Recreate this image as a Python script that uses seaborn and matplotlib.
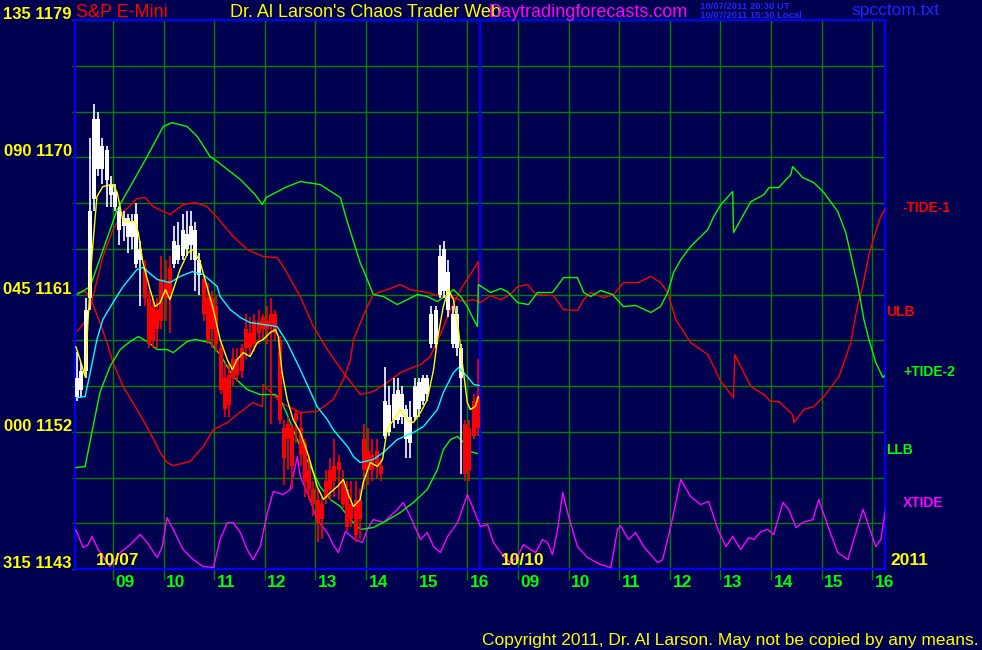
# S&P E-Mini chaos trader chart, two sessions 10/07 and 10/10

import numpy as np
import matplotlib
matplotlib.use("Agg")
import matplotlib.pyplot as plt
import matplotlib.transforms as mtransforms
from matplotlib import font_manager
import seaborn as sns

# ------------------------------
# DATA
# x = 5-minute bars counted from 08:15 on 10/07, 10/10 starts at bar 96
# ------------------------------

bar_open = [1154.25, 1154.75, 1156.0, 1160.75, 1167.25, 1172.5, 1169.25, 1170.5, 1168.25, 1167.75,
            1166.5, 1165.5, 1166.0, 1164.75, 1166.25, 1163.25, 1162.75, 1160.75, 1158.0, 1160.0,
            1159.25, 1161.75, 1160.75, 1163.0, 1164.25, 1163.5, 1165.0, 1164.25, 1165.25, 1163.25,
            1162.0, 1160.75, 1158.75, 1160.25, 1157.5, 1155.5, 1153.75, 1155.5, 1156.75, 1156.0,
            1157.5, 1158.5, 1157.75, 1159.25, 1158.75, 1159.25, 1159.0, 1159.75, 1158.0, 1152.25,
            1151.5, 1152.25, 1152.75, 1152.25, 1151.25, 1149.5, 1148.25, 1147.5, 1147.25, 1148.75,
            1149.5, 1149.75, 1149.5, 1148.75, 1148.25, 1147.25, 1147.5, 1146.25, 1149.5, 1149.5,
            1150.5, 1149.75, 1149.75, 1151.75, 1152.0, 1152.75, 1152.75, 1153.0, 1151.5, 1151.25,
            1153.0, 1153.5, 1154.0, 1154.5, 1157.75, 1157.75, 1161.0, 1161.25, 1160.0, 1157.75,
            1157.5, 1155.5, 1152.5, 1152.25, 1154.0, 1154.25]
bar_high = [1157.25, 1156.5, 1160.75, 1171.25, 1173.5, 1173.0, 1171.25, 1170.75, 1168.75, 1168.25,
            1166.75, 1166.5, 1166.25, 1166.25, 1167.0, 1164.5, 1163.25, 1161.25, 1161.0, 1160.75,
            1163.5, 1163.25, 1163.5, 1165.5, 1165.75, 1166.25, 1166.5, 1166.5, 1165.75, 1163.75,
            1162.25, 1161.75, 1161.25, 1161.0, 1158.0, 1156.5, 1156.5, 1157.5, 1157.5, 1157.75,
            1159.75, 1159.5, 1159.75, 1160.0, 1159.75, 1160.25, 1160.75, 1160.0, 1158.25, 1152.75,
            1153.0, 1152.5, 1153.5, 1153.25, 1151.5, 1150.5, 1148.75, 1148.25, 1147.75, 1149.5,
            1150.25, 1151.5, 1150.5, 1149.5, 1148.75, 1148.75, 1148.75, 1148.25, 1152.5, 1152.25,
            1151.5, 1151.5, 1150.25, 1156.25, 1155.0, 1155.5, 1155.5, 1155.0, 1153.75, 1154.0,
            1155.5, 1155.5, 1155.75, 1155.75, 1160.25, 1160.25, 1164.25, 1164.5, 1163.25, 1160.25,
            1160.25, 1157.75, 1152.75, 1152.75, 1154.5, 1156.75]
bar_low = [1154.0, 1154.25, 1155.5, 1160.0, 1166.5, 1168.75, 1168.25, 1166.75, 1166.75, 1166.5,
           1164.25, 1164.5, 1163.75, 1164.0, 1162.75, 1160.25, 1160.25, 1157.5, 1157.5, 1157.5,
           1158.75, 1159.25, 1158.5, 1162.75, 1163.0, 1163.25, 1163.5, 1163.25, 1161.25, 1161.0,
           1159.25, 1157.75, 1157.5, 1157.25, 1154.5, 1153.0, 1153.0, 1155.0, 1155.25, 1155.5,
           1156.75, 1157.0, 1157.25, 1157.75, 1158.0, 1157.75, 1152.5, 1158.0, 1152.5, 1148.5,
           1149.5, 1148.25, 1151.25, 1149.75, 1147.75, 1147.5, 1146.5, 1144.75, 1145.0, 1147.25,
           1147.5, 1147.75, 1147.5, 1147.0, 1145.5, 1145.75, 1144.75, 1145.0, 1148.25, 1148.5,
           1148.75, 1149.0, 1148.75, 1151.5, 1151.75, 1152.25, 1152.5, 1152.5, 1150.25, 1150.25,
           1152.75, 1153.0, 1153.75, 1154.0, 1157.5, 1157.5, 1160.75, 1160.75, 1159.5, 1157.5,
           1157.0, 1149.25, 1148.75, 1148.75, 1151.5, 1151.75]
bar_close = [1155.5, 1156.0, 1160.0, 1166.5, 1172.5, 1169.25, 1170.75, 1168.5, 1167.5, 1166.75,
             1165.25, 1166.0, 1164.75, 1165.75, 1163.0, 1164.0, 1160.75, 1157.75, 1160.25, 1158.75,
             1162.0, 1160.75, 1162.75, 1164.5, 1163.25, 1165.25, 1164.0, 1165.5, 1163.25, 1162.25,
             1159.75, 1158.0, 1160.75, 1157.75, 1154.75, 1153.5, 1155.75, 1156.75, 1155.75, 1157.5,
             1158.75, 1157.5, 1159.25, 1158.5, 1159.5, 1158.75, 1159.75, 1158.5, 1152.75, 1150.25,
             1152.5, 1149.75, 1153.25, 1150.5, 1148.75, 1148.25, 1147.25, 1146.0, 1146.25, 1147.75,
             1148.25, 1148.75, 1150.0, 1147.25, 1145.75, 1146.25, 1145.25, 1147.5, 1151.5, 1150.75,
             1149.5, 1150.75, 1149.25, 1154.0, 1153.75, 1154.5, 1154.75, 1154.5, 1153.5, 1153.0,
             1155.0, 1155.25, 1155.5, 1155.5, 1159.75, 1160.0, 1163.5, 1164.0, 1162.5, 1159.75,
             1159.75, 1157.5, 1149.25, 1149.5, 1151.75, 1152.25]
# W = white bar, R = red bar
bar_colour = "WWWWWWWWWWWWWWWWRRRRRRRWWWWWWWRRRRRRRRRRRRRRRRRRRRRRRRRRRRRRRRRRRRRRRRRRRWWWWWWWWWWWWWWWWWWWRRRR"

fast_bar = [0.2, 1.2, 2.4, 3.1, 4.0, 4.8, 5.2, 6.6, 9.0, 10.0, 11.4, 14.2, 15.0, 16.1, 17.8, 19.0,
            20.2, 21.4, 22.5, 24.9, 26.8, 28.0, 29.7, 31.3, 32.8, 34.4, 36.1, 37.3, 38.4, 39.9, 41.5,
            43.2, 44.6, 46.3, 47.5, 48.2, 49.1, 50.3, 51.7, 53.4, 55.1, 56.5, 57.4, 58.9, 60.5, 62.2,
            63.6, 64.8, 66.0, 67.6, 68.3, 70.0, 71.7, 72.9, 74.0, 75.5, 77.1, 78.8, 80.2, 81.9, 83.5,
            85.0, 85.9, 87.3, 88.5, 89.7, 90.9, 91.8, 93.0, 93.7, 94.9, 95.6]
fast_price = [1157.59, 1156.73, 1155.62, 1159.36, 1163.49, 1166.11, 1167.42, 1168.08, 1168.21, 1167.69,
              1165.78, 1165.78, 1165.06, 1163.09, 1161.32, 1160.21, 1160.47, 1161.32, 1160.67, 1162.64,
              1163.75, 1163.95, 1163.09, 1161.52, 1160.01, 1158.05, 1156.73, 1156.08, 1156.73, 1157.19,
              1156.93, 1157.85, 1158.05, 1158.51, 1158.70, 1158.24, 1155.88, 1154.11, 1152.80, 1151.95,
              1150.64, 1149.33, 1148.41, 1147.56, 1148.01, 1148.41, 1148.87, 1147.88, 1147.10, 1147.56,
              1148.67, 1149.98, 1149.72, 1150.18, 1152.14, 1152.80, 1153.46, 1152.80, 1152.60, 1153.26,
              1154.11, 1156.08, 1158.05, 1160.21, 1161.32, 1160.67, 1158.70, 1156.54, 1153.92, 1153.46,
              1153.66, 1154.31]

slow_bar = [0.5, 2.4, 3.6, 5.2, 6.6, 9.0, 11.4, 14.7, 16.1, 19.5, 22.5, 24.9, 27.8, 30.4, 33.7, 34.4,
            36.8, 39.2, 41.5, 47.9, 50.3, 53.4, 57.4, 59.8, 61.2, 64.6, 66.0, 67.6, 70.7, 73.1, 76.4,
            80.2, 82.6, 85.9, 87.3, 89.7, 90.9, 93.0, 94.5, 95.9]
slow_price = [1154.24, 1154.31, 1155.88, 1158.05, 1159.36, 1160.47, 1161.52, 1162.64, 1162.77, 1161.98,
              1161.78, 1162.18, 1162.50, 1162.31, 1161.52, 1160.87, 1160.01, 1159.49, 1159.16, 1158.90,
              1157.85, 1156.08, 1153.65, 1152.80, 1152.14, 1151.03, 1150.37, 1149.98, 1150.18, 1150.64,
              1151.49, 1151.95, 1152.34, 1153.46, 1154.57, 1155.88, 1156.21, 1155.62, 1155.10, 1155.03]

ulb_bar = [0.5, 2.4, 4.0, 6.6, 9.0, 11.4, 14.7, 16.6, 18.5, 22.5, 25.6, 28.5, 31.3, 33.7, 37.5, 40.8,
           44.6, 47.9, 49.4, 53.4, 56.5, 59.8, 63.6, 65.3, 67.6, 70.7, 74.0, 77.1, 81.9, 84.2, 86.6,
           89.0, 91.4, 93.7, 95.6, 95.7]
ulb_price = [1158.57, 1159.23, 1160.54, 1163.49, 1165.26, 1166.37, 1167.29, 1167.36, 1166.77, 1166.24,
             1166.90, 1167.03, 1166.77, 1166.05, 1164.80, 1163.95, 1163.49, 1163.42, 1162.83, 1160.87,
             1158.90, 1157.39, 1155.88, 1155.29, 1154.44, 1154.64, 1155.23, 1155.88, 1156.41, 1156.93,
             1158.37, 1160.01, 1161.32, 1162.31, 1163.16, 1160.40]

llb_bar = [0.2, 2.4, 4.0, 5.9, 8.3, 10.7, 13.1, 15.0, 17.1, 19.5, 21.8, 23.3, 26.6, 28.5, 32.0, 34.4,
           37.5, 40.8, 43.9, 47.5, 48.7, 50.3, 51.7, 53.4, 55.8, 58.1, 60.5, 62.9, 65.3, 67.6, 70.7,
           73.1, 77.1, 80.2, 83.5, 85.9, 87.3, 89.0, 90.7, 92.1, 93.7, 95.4]
llb_price = [1149.65, 1149.72, 1151.95, 1154.57, 1156.28, 1157.39, 1157.92, 1158.24, 1157.92, 1157.39,
             1157.39, 1157.19, 1157.92, 1158.05, 1157.85, 1157.06, 1155.62, 1154.77, 1154.44, 1154.44,
             1154.11, 1153.13, 1152.14, 1151.03, 1149.72, 1148.41, 1147.56, 1147.10, 1146.24, 1145.59,
             1145.72, 1146.05, 1146.70, 1147.36, 1148.21, 1149.52, 1150.83, 1151.49, 1151.69, 1151.29,
             1150.70, 1150.57]

tide1_bar = [0.5, 2.4, 3.6, 5.9, 7.6, 9.0, 11.4, 14.7, 17.8, 20.2, 21.8, 23.3, 27.3, 30.4, 32.8, 36.1,
             38.4, 42.2, 44.4, 44.6, 48.7, 53.4, 57.4, 61.2, 63.6, 65.3, 66.0, 69.3, 70.7, 74.0, 77.1,
             79.5, 83.5, 86.6, 89.7, 92.1, 94.5, 95.6,
             96.1, 98.5, 100.9, 103.2, 104.9, 107.3, 109.2, 113.4, 115.8, 119.1, 120.6, 122.2, 125.3,
             127.7, 130.0, 133.4, 136.5, 138.8, 140.5, 142.4, 145.9, 150.0, 153.1, 156.1, 156.4, 157.8,
             160.2, 163.3, 164.9, 166.8, 170.1, 170.4, 172.8, 175.1, 177.5, 181.1, 183.9, 185.3, 186.8,
             188.2, 189.8, 191.0, 192.2]
tide1_price = [1161.13, 1161.19, 1160.80, 1159.16, 1157.85, 1156.54, 1154.97, 1153.46, 1151.95, 1150.64,
               1149.98, 1149.78, 1150.05, 1151.03, 1152.14, 1152.60, 1153.13, 1153.92, 1153.65, 1155.10,
               1153.92, 1153.26, 1153.33, 1154.11, 1155.42, 1156.73, 1158.05, 1160.21, 1161.00, 1161.32,
               1161.65, 1161.32, 1161.13, 1160.87, 1160.80, 1160.54, 1160.67, 1160.54,
               1160.47, 1160.93, 1160.67, 1161.00, 1161.52, 1161.65, 1161.00, 1160.93, 1160.01, 1159.95,
               1160.67, 1161.13, 1160.80, 1161.00, 1161.78, 1161.78, 1162.18, 1161.78, 1161.13, 1159.36,
               1157.85, 1157.06, 1155.29, 1154.24, 1157.06, 1156.28, 1154.97, 1154.44, 1153.98, 1153.98,
               1153.13, 1152.60, 1153.46, 1153.65, 1154.31, 1155.62, 1157.85, 1160.01, 1161.65, 1163.62,
               1165.13, 1166.11, 1166.70]

tide2_bar = [0.5, 3.6, 10.0, 13.1, 17.1, 20.9, 23.0, 26.6, 29.0, 32.0, 33.7, 39.2, 42.7, 44.4, 45.3,
             49.8, 53.4, 58.1, 62.9, 64.6, 67.6, 69.3, 70.7, 73.1, 76.4, 78.8, 81.2, 83.5, 85.9, 88.3,
             89.7, 91.4, 93.0, 94.5, 95.4,
             95.6, 98.5, 100.9, 102.5, 104.9, 107.5, 109.6, 113.2, 115.8, 119.1, 120.6, 122.2, 124.6,
             127.4, 130.0, 132.9, 136.5, 138.8, 140.5, 141.9, 143.6, 145.9, 148.3, 150.0, 151.4, 153.1,
             155.9, 156.1, 157.8, 160.2, 163.3, 164.5, 166.8, 169.7, 170.1, 172.5, 175.1, 177.5, 180.8,
             182.7, 185.6, 187.0, 188.2, 189.8, 191.5, 192.2]
tide2_price = [1161.00, 1161.52, 1166.57, 1168.08, 1170.05, 1172.01, 1172.27, 1172.01, 1171.36, 1170.05,
               1169.72, 1168.54, 1167.55, 1166.90, 1167.36, 1168.01, 1168.41, 1168.21, 1167.36, 1165.72,
               1163.09, 1161.98, 1161.00, 1160.87, 1160.34, 1160.67, 1161.00, 1160.87, 1160.54, 1161.00,
               1161.32, 1160.87, 1160.21, 1159.36, 1158.90,
               1161.65, 1161.13, 1161.39, 1161.19, 1160.47, 1160.34, 1161.13, 1161.13, 1162.11, 1162.11,
               1161.13, 1160.87, 1161.26, 1161.00, 1160.21, 1160.28, 1159.82, 1160.21, 1161.13, 1162.44,
               1163.29, 1164.14, 1164.80, 1165.26, 1166.11, 1166.90, 1167.75, 1165.06, 1165.91, 1167.09,
               1167.55, 1168.01, 1168.01, 1168.87, 1169.39, 1168.67, 1168.34, 1167.69, 1166.44, 1165.06,
               1161.52, 1159.36, 1158.05, 1156.54, 1155.56, 1155.75]

xtide_bar = [0.2, 1.9, 3.1, 4.0, 5.5, 8.3, 10.7, 13.1, 15.4, 17.1, 19.5, 20.7, 21.8, 23.3, 25.6, 28.0,
             30.4, 32.8, 34.4, 36.1, 37.5, 39.2, 40.8, 42.2, 43.9, 45.6, 47.0, 49.4, 51.0, 52.7, 53.4,
             55.1, 57.4, 59.8, 61.2, 62.4, 64.1, 66.4, 68.1, 69.3, 70.7, 73.1, 76.4, 77.8, 79.5, 81.9,
             83.5, 85.0, 86.6, 88.3, 90.7, 93.0, 94.5, 96.1, 97.8, 99.2, 101.6, 103.2, 104.9, 106.3,
             108.0, 109.2, 110.8, 112.0, 113.2, 114.4, 115.6, 117.0, 119.1, 121.5, 124.6, 127.0, 128.6,
             129.3, 131.2, 132.9, 134.8, 138.1, 139.3, 141.2, 143.6, 145.9, 148.3, 150.2, 152.4, 154.3,
             155.9, 157.8, 159.7, 160.9, 162.6, 164.2, 165.6, 167.8, 169.2, 170.9, 172.5, 174.9, 176.3,
             178.5, 180.8, 183.2, 184.6, 186.8, 188.2, 189.8, 191.0, 192.2]
xtide_price = [1145.59, 1144.41, 1144.60, 1145.13, 1144.28, 1143.16, 1144.08, 1144.60, 1145.26, 1144.74,
               1143.75, 1144.47, 1146.37, 1145.59, 1144.28, 1143.62, 1143.16, 1143.10, 1144.93, 1146.05,
               1146.05, 1145.39, 1144.28, 1143.62, 1144.47, 1146.70, 1148.08, 1147.88, 1148.21, 1150.37,
               1149.06, 1148.01, 1146.24, 1145.39, 1144.60, 1144.08, 1145.46, 1144.93, 1144.74, 1145.59,
               1146.24, 1146.05, 1146.90, 1147.36, 1146.44, 1144.93, 1145.39, 1144.47, 1144.08, 1145.13,
               1146.05, 1147.88, 1146.90, 1145.78, 1145.92, 1144.74, 1143.82, 1143.42, 1143.82, 1144.60,
               1144.28, 1144.08, 1144.93, 1144.74, 1143.95, 1145.59, 1148.01, 1146.44, 1144.47, 1143.75,
               1143.29, 1143.10, 1145.59, 1145.85, 1144.93, 1145.39, 1144.47, 1143.42, 1143.62, 1145.78,
               1148.87, 1147.75, 1147.23, 1147.43, 1145.59, 1144.47, 1145.13, 1144.28, 1145.06, 1144.93,
               1145.46, 1145.59, 1145.26, 1147.36, 1146.90, 1145.72, 1146.05, 1146.24, 1147.56, 1145.78,
               1144.08, 1143.62, 1144.93, 1146.90, 1145.78, 1144.47, 1144.93, 1147.03]

hour_labels = ["09", "10", "11", "12", "13", "14", "15", "16"]
hour_values = [9, 10, 11, 12, 13, 14, 15, 16]
day_labels = ["10/07", "10/10"]
angle_labels = ["135", "090", "045", "000", "315"]
price_labels = [1179, 1170, 1161, 1152, 1143]

# ------------------------------
# STYLE
# ------------------------------

BG = "#000050"
GRID = "#008000"
BLUE = "#0000ff"
SMALLBLUE = "#2424ff"
YELLOW = "#ffff00"
RED = "#ff0000"
GREEN = "#00ff00"
MAGENTA = "#ff00ff"
CYAN = "#00ffff"

sns.set_theme(style="dark", rc={"axes.facecolor": BG, "figure.facecolor": BG})
plt.rcParams["font.family"] = ["Liberation Sans", "DejaVu Sans"]

installed = {f.name for f in font_manager.fontManager.ttflist}
NARROW = "Liberation Sans Narrow" if "Liberation Sans Narrow" in installed else "Liberation Sans"

SESSION_START = 8.25
BARS_PER_HOUR = 12
BARS_PER_DAY = 96

fig = plt.figure(figsize=(9.82, 6.5), dpi=100)
ax = fig.add_axes([75 / 982, 81 / 650, 810 / 982, 549 / 650])
ax.set_facecolor(BG)

# ------------------------------
# GRID / AXES
# ------------------------------

hour_pos = []
for day in range(2):
    for h in hour_values:
        hour_pos.append((h - SESSION_START) * BARS_PER_HOUR + day * BARS_PER_DAY)

ax.set_xlim(0, 2 * BARS_PER_DAY)
ax.set_ylim(1143, 1179)
ax.set_xticks(hour_pos)
ax.set_yticks(np.arange(1143, 1180, 3))
ax.grid(True, color=GRID, linewidth=1.0)
ax.set_axisbelow(True)
ax.tick_params(axis="x", length=8, width=1.0, color=GRID, direction="out",
               labelbottom=False, bottom=True)
ax.tick_params(axis="y", length=2, width=1.0, color=GRID, direction="out",
               labelleft=False, left=True)
for s in ax.spines.values():
    s.set_color(BLUE)
    s.set_linewidth(1.6)
    s.set_visible(True)
ax.axvline(BARS_PER_DAY, color=BLUE, linewidth=1.6, zorder=2.5)
ax.set_xlabel("")
ax.set_ylabel("")

# ------------------------------
# LINES
# ------------------------------

def draw(xs, ys, colour, z):
    sns.lineplot(x=xs, y=ys, color=colour, linewidth=1.0, estimator=None,
                 sort=False, ax=ax, zorder=z)

draw(xtide_bar, xtide_price, MAGENTA, 2.6)
draw(ulb_bar, ulb_price, RED, 2.7)
draw(tide1_bar, tide1_price, RED, 2.7)
draw(llb_bar, llb_price, GREEN, 2.8)
draw(tide2_bar, tide2_price, GREEN, 2.8)

# candles
for i in range(len(bar_open)):
    c = "white" if bar_colour[i] == "W" else RED
    x = i + 0.5
    ax.vlines(x, bar_low[i], bar_high[i], color=c, linewidth=1.2, zorder=3)
    lo = min(bar_open[i], bar_close[i])
    hgt = max(abs(bar_close[i] - bar_open[i]), 0.08)
    ax.bar(x, hgt, bottom=lo, width=0.95, color=c, linewidth=0, zorder=3)

draw(slow_bar, slow_price, CYAN, 4)
draw(fast_bar, fast_price, YELLOW, 4.1)

# ------------------------------
# TEXT
# ------------------------------

left_tr = mtransforms.blended_transform_factory(ax.transAxes, ax.transData)
for a, p in zip(angle_labels, price_labels):
    ax.text(-0.004, p + 0.05, f"{a} {p}", transform=left_tr, ha="right", va="baseline",
            color=YELLOW, fontsize=12, family=NARROW, fontweight="bold", clip_on=False)

bottom_tr = mtransforms.blended_transform_factory(ax.transData, ax.transAxes)
for day in range(2):
    for h, lab in zip(hour_values, hour_labels):
        xp = (h - SESSION_START) * BARS_PER_HOUR + day * BARS_PER_DAY
        ax.text(xp + 0.6, -0.033, lab, transform=bottom_tr, ha="left", va="baseline",
                color=GREEN, fontsize=12.5, family=NARROW, fontweight="bold", clip_on=False)

ax.text(5.0, 1143.25, day_labels[0], ha="left", va="baseline", color=YELLOW,
        fontsize=12.5, family=NARROW, fontweight="bold")
ax.text(BARS_PER_DAY + 5.0, 1143.25, day_labels[1], ha="left", va="baseline", color=YELLOW,
        fontsize=12.5, family=NARROW, fontweight="bold")
ax.text(193.3, 1143.25, "2011", ha="left", va="baseline", color=YELLOW,
        fontsize=12.5, family=NARROW, fontweight="bold", clip_on=False)

right_tr = mtransforms.blended_transform_factory(ax.transAxes, ax.transData)
right_labels = [("-TIDE-1", RED, tide1_price[-1], 1.022, 0.0),
                ("ULB", RED, ulb_price[-1], 1.002, -0.55),
                ("+TIDE-2", GREEN, tide2_price[-1], 1.023, 0.2),
                ("LLB", GREEN, llb_price[-1], 1.002, 0.25),
                ("XTIDE", MAGENTA, xtide_price[-1], 1.022, 0.3)]
for name, col, yv, xa, dy in right_labels:
    ax.text(xa, yv + dy, name, transform=right_tr, ha="left", va="center", color=col,
            fontsize=10, family=NARROW, fontweight="bold", clip_on=False)

W, H = 982, 650
def fx(px):
    return px / W
def fy(py):
    return 1 - py / H

fig.text(fx(76), fy(17), "S&P E-Mini", color=RED, fontsize=13, va="baseline")
fig.text(fx(230), fy(17), "Dr. Al Larson's Chaos Trader Web", color=YELLOW, fontsize=13, va="baseline")
fig.text(fx(489), fy(17), "Daytradingforecasts.com", color=MAGENTA, fontsize=13, va="baseline")
fig.text(fx(700), fy(9), "10/07/2011 20:30 UT", color=SMALLBLUE, fontsize=6.8,
         fontweight="bold", va="baseline")
fig.text(fx(700), fy(18), "10/07/2011 15:30 Local", color=SMALLBLUE, fontsize=6.8,
         fontweight="bold", va="baseline")
fig.text(fx(851), fy(15), "spcctom.txt", color=SMALLBLUE, fontsize=12.5, va="baseline")
fig.text(fx(979), fy(645), "Copyright 2011, Dr. Al Larson. May not be copied by any means.",
         color=YELLOW, fontsize=12.5, family=NARROW, ha="right", va="baseline")

fig.savefig("out.png", dpi=100, facecolor=BG)
